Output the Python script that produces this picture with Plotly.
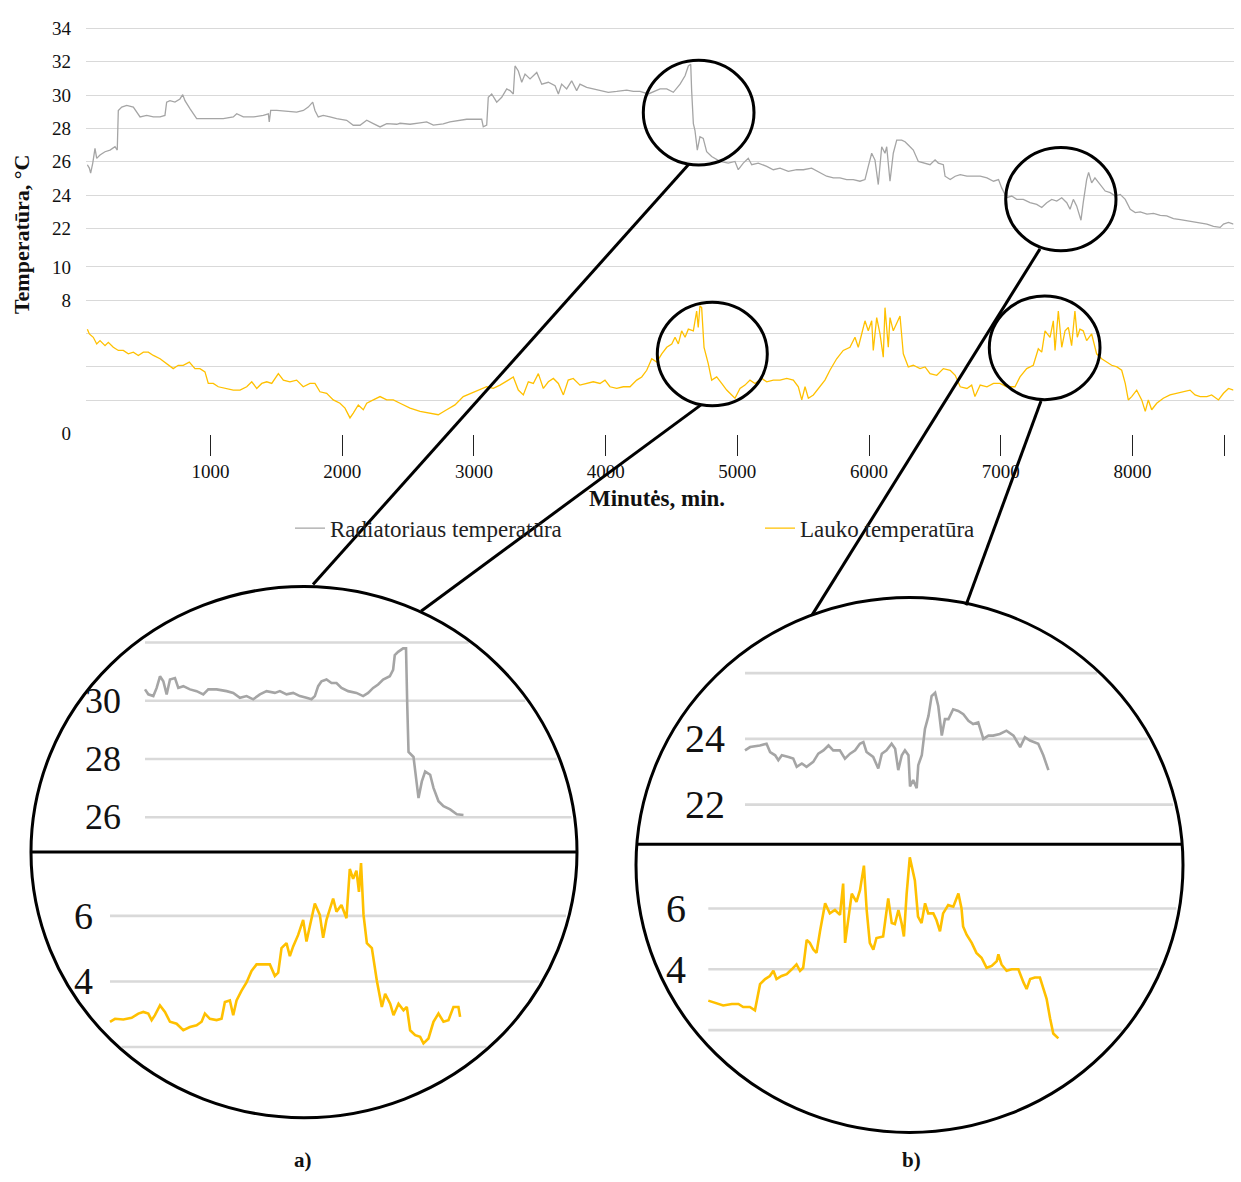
import math
import plotly.graph_objects as go

W, H = 1241, 1182
FONT = "Liberation Serif"
GREY = "#a5a5a5"
GOLD = "#ffc000"
GRID = "#d9d9d9"

# ---------------- data: (minutes, °C) ----------------
rad_readings = [
    (65, 25.82), (80, 25.62), (90, 25.32), (106, 25.92), (123, 26.8), (136, 26.2), (161, 26.4),
    (199, 26.6), (237, 26.7), (275, 26.9), (292, 26.7), (300, 29.08), (326, 29.28), (364, 29.38),
    (414, 29.28), (440, 28.98), (465, 28.69), (516, 28.78), (566, 28.69), (617, 28.69), (654, 28.78),
    (667, 29.58), (692, 29.67), (730, 29.58), (768, 29.77), (789, 30.03), (806, 29.67), (845, 29.18),
    (895, 28.59), (945, 28.59), (1021, 28.59), (1097, 28.59), (1173, 28.69), (1199, 28.88),
    (1249, 28.69), (1325, 28.69), (1401, 28.78), (1439, 28.88), (1446, 28.39), (1457, 29.08),
    (1503, 29.08), (1578, 29.05), (1654, 28.98), (1705, 29.08), (1742, 29.28), (1776, 29.58),
    (1793, 29.08), (1818, 28.69), (1856, 28.78), (1907, 28.69), (1958, 28.59), (2034, 28.49),
    (2084, 28.19), (2135, 28.19), (2186, 28.49), (2236, 28.29), (2287, 28.09), (2338, 28.29),
    (2414, 28.25), (2439, 28.31), (2515, 28.25), (2591, 28.33), (2641, 28.39), (2692, 28.2),
    (2767, 28.27), (2818, 28.39), (2869, 28.45), (2945, 28.55), (3021, 28.55), (3059, 28.55),
    (3071, 28.1), (3097, 28.2), (3109, 29.87), (3135, 30.07), (3173, 29.58), (3211, 29.87),
    (3249, 30.37), (3274, 30.27), (3299, 30.07), (3312, 31.75), (3337, 31.45), (3363, 30.77),
    (3388, 31.26), (3426, 30.97), (3477, 31.36), (3515, 30.66), (3565, 30.77), (3616, 30.56),
    (3641, 30.07), (3666, 30.66), (3704, 30.37), (3742, 30.86), (3780, 30.27), (3805, 30.66),
    (3856, 30.47), (3906, 30.37), (3957, 30.27), (4020, 30.17), (4084, 30.22), (4160, 30.3),
    (4210, 30.22), (4261, 30.22), (4324, 30.07), (4413, 30.37), (4464, 30.37), (4514, 30.17),
    (4565, 30.66), (4603, 31.16), (4628, 31.75), (4646, 31.85), (4653, 30.27), (4666, 28.29),
    (4678, 27.89), (4696, 26.7), (4716, 27.5), (4741, 27.4), (4767, 26.6), (4805, 26.31),
    (4868, 26.02), (4931, 25.92), (4982, 26.02), (5007, 25.52), (5045, 25.92), (5083, 26.21),
    (5109, 25.82), (5159, 25.92), (5223, 25.72), (5273, 25.52), (5324, 25.62), (5387, 25.42),
    (5451, 25.52), (5501, 25.52), (5564, 25.62), (5615, 25.42), (5628, 25.32), (5678, 25.13),
    (5729, 25.03), (5779, 25.03), (5830, 24.93), (5880, 24.93), (5931, 24.83), (5969, 24.93),
    (5994, 25.72), (6020, 26.51), (6045, 26.1), (6070, 24.63), (6096, 26.9), (6121, 26.51),
    (6134, 26.9), (6159, 24.83), (6184, 26.51), (6210, 27.3), (6248, 27.3), (6273, 27.2),
    (6298, 27.0), (6336, 26.7), (6374, 26.02), (6412, 25.92), (6463, 25.82), (6501, 26.11),
    (6526, 25.92), (6564, 25.82), (6577, 25.13), (6616, 24.93), (6654, 25.13), (6692, 25.22),
    (6743, 25.13), (6793, 25.13), (6844, 25.13), (6895, 25.03), (6945, 24.83), (6983, 24.93),
    (7007, 24.43), (7045, 23.84), (7083, 23.94), (7121, 23.74), (7171, 23.74), (7222, 23.54),
    (7273, 23.44), (7311, 23.25), (7349, 23.54), (7387, 23.74), (7425, 23.64), (7463, 23.84),
    (7501, 23.54), (7526, 23.15), (7551, 23.74), (7576, 23.35), (7609, 22.49), (7626, 23.54),
    (7652, 24.93), (7667, 25.36), (7690, 24.73), (7715, 25.03), (7755, 24.63), (7793, 24.24),
    (7831, 24.14), (7869, 23.94), (7907, 24.04), (7945, 23.74), (7983, 23.15), (8021, 22.95),
    (8059, 22.99), (8110, 22.85), (8160, 22.9), (8211, 22.78), (8260, 22.75), (8311, 22.59),
    (8363, 22.53), (8413, 22.46), (8463, 22.36), (8514, 22.32), (8565, 22.26), (8615, 22.12),
    (8666, 22.06), (8691, 22.26), (8729, 22.36), (8767, 22.26),
]

outdoor_readings = [
    (65, 6.26), (80, 5.97), (110, 5.77), (136, 5.37), (161, 5.57), (199, 5.27), (224, 5.47),
    (262, 5.17), (300, 4.98), (338, 4.98), (376, 4.78), (414, 4.88), (452, 4.68), (490, 4.88),
    (528, 4.88), (566, 4.68), (617, 4.48), (667, 4.19), (717, 3.89), (755, 4.09), (793, 4.09),
    (839, 4.28), (882, 3.89), (920, 3.89), (958, 3.69), (983, 3.0), (1021, 3.0), (1059, 2.8),
    (1123, 2.7), (1173, 2.6), (1224, 2.6), (1275, 2.8), (1313, 3.1), (1351, 2.7), (1389, 3.0),
    (1427, 3.1), (1465, 3.0), (1515, 3.59), (1553, 3.2), (1603, 3.1), (1654, 3.2), (1704, 2.8),
    (1755, 3.0), (1793, 3.0), (1831, 2.5), (1882, 2.41), (1932, 2.01), (1983, 1.81), (2021, 1.52),
    (2059, 0.93), (2084, 1.22), (2122, 1.71), (2160, 1.42), (2186, 1.81), (2236, 2.01), (2287, 2.21),
    (2338, 2.01), (2388, 2.01), (2439, 1.81), (2515, 1.52), (2591, 1.32), (2666, 1.22), (2729, 1.12),
    (2793, 1.42), (2856, 1.71), (2919, 2.21), (2983, 2.41), (3046, 2.6), (3097, 2.8), (3147, 2.7),
    (3198, 2.9), (3261, 3.2), (3299, 3.39), (3337, 2.6), (3375, 2.31), (3413, 3.1), (3451, 3.0),
    (3489, 3.59), (3527, 2.7), (3565, 3.1), (3603, 3.3), (3641, 3.0), (3679, 2.31), (3716, 3.2),
    (3754, 3.3), (3805, 2.9), (3856, 3.0), (3906, 3.1), (3957, 3.0), (3995, 3.2), (4033, 2.8),
    (4084, 2.7), (4134, 2.8), (4185, 2.8), (4236, 3.2), (4274, 3.39), (4312, 3.79), (4350, 4.48),
    (4388, 4.28), (4426, 4.78), (4464, 5.17), (4502, 5.37), (4527, 5.77), (4552, 5.37), (4577, 6.16),
    (4603, 5.77), (4628, 6.26), (4666, 6.16), (4691, 7.35), (4703, 6.36), (4716, 7.65), (4729, 7.55),
    (4747, 5.17), (4779, 4.19), (4805, 3.2), (4843, 3.39), (4881, 3.0), (4919, 2.6), (4957, 2.31),
    (4982, 2.11), (5020, 2.7), (5058, 2.9), (5096, 3.2), (5134, 3.0), (5185, 3.3), (5223, 3.1),
    (5273, 3.2), (5324, 3.2), (5375, 3.3), (5425, 3.2), (5463, 2.8), (5489, 2.01), (5514, 2.8),
    (5539, 2.11), (5577, 2.31), (5615, 2.7), (5653, 3.1), (5665, 3.2), (5703, 3.79), (5754, 4.48),
    (5804, 4.98), (5855, 5.17), (5893, 5.77), (5918, 5.17), (5944, 5.97), (5969, 6.76), (5994, 6.16),
    (6020, 6.76), (6032, 4.98), (6058, 6.95), (6083, 5.97), (6108, 4.58), (6121, 7.55), (6146, 5.17),
    (6159, 6.95), (6184, 6.16), (6235, 7.05), (6260, 4.78), (6298, 3.99), (6336, 4.09), (6387, 3.89),
    (6425, 3.99), (6463, 3.59), (6514, 3.49), (6564, 3.89), (6616, 3.79), (6654, 3.49), (6692, 2.8),
    (6743, 2.7), (6779, 2.9), (6804, 2.21), (6844, 2.9), (6895, 2.8), (6945, 3.0), (6994, 3.0),
    (7045, 2.8), (7108, 2.8), (7146, 3.39), (7197, 3.89), (7247, 4.09), (7285, 5.08), (7311, 4.88),
    (7336, 6.16), (7374, 5.77), (7399, 6.76), (7412, 4.98), (7437, 7.35), (7463, 5.17), (7488, 6.16),
    (7513, 6.36), (7538, 5.27), (7563, 7.35), (7581, 5.77), (7601, 6.26), (7626, 6.16), (7652, 5.57),
    (7690, 5.97), (7728, 4.78), (7766, 4.48), (7804, 4.28), (7842, 4.09), (7882, 3.99), (7918, 3.79),
    (7945, 3.0), (7968, 2.01), (7994, 2.21), (8032, 2.6), (8070, 2.01), (8097, 1.32), (8120, 2.01),
    (8146, 1.42), (8184, 1.81), (8234, 2.11), (8285, 2.31), (8336, 2.41), (8386, 2.5), (8437, 2.6),
    (8475, 2.31), (8514, 2.21), (8565, 2.21), (8601, 2.31), (8653, 2.01), (8691, 2.41), (8729, 2.7),
    (8767, 2.6),
]

# detailed readings for the two magnified windows
a_rad_readings = [
    (4000, 30.39), (4008, 30.22), (4020, 30.16), (4028, 30.44), (4036, 30.84), (4044, 30.67),
    (4052, 30.22), (4060, 30.73), (4072, 30.78), (4080, 30.44), (4092, 30.5), (4108, 30.39),
    (4124, 30.33), (4140, 30.22), (4152, 30.39), (4172, 30.39), (4196, 30.33), (4212, 30.27),
    (4228, 30.1), (4244, 30.16), (4260, 30.05), (4276, 30.22), (4292, 30.33), (4312, 30.27),
    (4324, 30.33), (4340, 30.22), (4356, 30.27), (4372, 30.16), (4388, 30.1), (4400, 30.05),
    (4408, 30.16), (4416, 30.5), (4424, 30.67), (4436, 30.73), (4448, 30.61), (4460, 30.61),
    (4472, 30.44), (4488, 30.33), (4508, 30.27), (4524, 30.16), (4536, 30.27), (4548, 30.44),
    (4560, 30.56), (4572, 30.73), (4588, 30.84), (4596, 31.06), (4600, 31.57), (4608, 31.68),
    (4620, 31.8), (4627, 31.8), (4630, 29.82), (4633, 28.24), (4645, 28.07), (4651, 27.34),
    (4657, 26.66), (4665, 27.23), (4673, 27.57), (4685, 27.46), (4693, 27.01), (4705, 26.55),
    (4717, 26.38), (4733, 26.27), (4749, 26.1), (4765, 26.08),
]
a_out_readings = [
    (4110, 2.77), (4122, 2.86), (4142, 2.84), (4162, 2.89), (4178, 3.02), (4190, 3.07), (4202, 3.02),
    (4210, 2.82), (4218, 2.97), (4230, 3.27), (4242, 3.07), (4254, 2.77), (4270, 2.71), (4286, 2.51),
    (4302, 2.61), (4318, 2.66), (4330, 2.77), (4338, 3.02), (4350, 2.86), (4366, 2.82), (4378, 2.86),
    (4386, 3.37), (4398, 3.42), (4406, 2.97), (4414, 3.42), (4426, 3.72), (4438, 3.97), (4450, 4.32),
    (4462, 4.52), (4474, 4.52), (4494, 4.52), (4506, 4.17), (4514, 4.27), (4522, 5.02), (4534, 5.17),
    (4542, 4.77), (4550, 5.07), (4562, 5.42), (4574, 5.88), (4582, 5.22), (4590, 5.68), (4602, 6.38),
    (4614, 6.03), (4622, 5.33), (4630, 5.88), (4638, 6.23), (4646, 6.53), (4654, 6.13), (4666, 6.33),
    (4678, 5.93), (4686, 7.43), (4694, 7.13), (4702, 7.38), (4708, 6.73), (4713, 7.61), (4719, 6.03),
    (4727, 5.17), (4739, 5.02), (4751, 4.02), (4763, 3.22), (4771, 3.62), (4783, 3.32), (4791, 2.97),
    (4803, 3.32), (4815, 3.12), (4823, 3.22), (4831, 2.51), (4843, 2.36), (4855, 2.31), (4863, 2.11),
    (4875, 2.26), (4887, 2.77), (4899, 3.02), (4911, 2.77), (4923, 2.82), (4935, 3.22), (4947, 3.22),
    (4951, 2.92),
]
b_rad_readings = [
    (7177, 23.65), (7190, 23.75), (7215, 23.8), (7232, 23.85), (7241, 23.6), (7254, 23.5),
    (7262, 23.35), (7271, 23.5), (7288, 23.45), (7300, 23.4), (7309, 23.15), (7322, 23.25),
    (7334, 23.15), (7351, 23.3), (7364, 23.55), (7377, 23.65), (7390, 23.8), (7402, 23.65),
    (7419, 23.65), (7432, 23.4), (7445, 23.55), (7458, 23.65), (7470, 23.85), (7479, 23.9),
    (7487, 23.6), (7504, 23.45), (7517, 23.1), (7526, 23.55), (7538, 23.65), (7551, 23.85),
    (7560, 23.7), (7568, 23.05), (7577, 23.5), (7585, 23.65), (7594, 23.5), (7598, 22.55),
    (7606, 22.75), (7615, 22.5), (7619, 23.2), (7628, 23.5), (7636, 24.3), (7645, 24.7),
    (7653, 25.3), (7662, 25.4), (7670, 25.0), (7679, 24.1), (7687, 24.6), (7696, 24.6),
    (7708, 24.9), (7721, 24.85), (7734, 24.75), (7747, 24.55), (7759, 24.45), (7772, 24.5),
    (7785, 24.0), (7798, 24.1), (7810, 24.1), (7827, 24.15), (7844, 24.25), (7862, 24.1),
    (7879, 23.75), (7891, 24.05), (7904, 23.95), (7917, 23.9), (7925, 23.85), (7938, 23.5),
    (7951, 23.05),
]
b_out_readings = [
    (7014, 2.97), (7027, 2.92), (7052, 2.81), (7074, 2.86), (7091, 2.86), (7103, 2.76), (7120, 2.76),
    (7133, 2.65), (7146, 3.51), (7159, 3.68), (7171, 3.78), (7180, 3.95), (7188, 3.68), (7201, 3.78),
    (7214, 3.84), (7227, 4.0), (7239, 4.16), (7248, 3.95), (7256, 4.05), (7265, 4.97), (7273, 4.87),
    (7282, 4.65), (7290, 4.54), (7299, 5.25), (7312, 6.17), (7324, 5.84), (7337, 5.95), (7350, 5.79),
    (7358, 6.82), (7363, 4.87), (7371, 5.62), (7380, 6.49), (7392, 6.22), (7401, 6.6), (7411, 7.41),
    (7418, 5.95), (7426, 4.87), (7435, 4.65), (7443, 5.03), (7460, 5.08), (7473, 6.33), (7482, 5.52),
    (7490, 5.49), (7499, 5.95), (7507, 5.52), (7513, 5.08), (7520, 6.49), (7528, 7.68), (7541, 6.92),
    (7549, 5.73), (7558, 5.52), (7567, 6.17), (7575, 5.84), (7588, 5.84), (7596, 5.62), (7605, 5.25),
    (7613, 5.84), (7626, 6.11), (7639, 6.06), (7652, 6.49), (7660, 6.0), (7664, 5.41), (7673, 5.14),
    (7686, 4.87), (7698, 4.54), (7711, 4.38), (7724, 4.05), (7737, 4.11), (7750, 4.27), (7754, 4.49),
    (7762, 4.16), (7775, 3.95), (7788, 4.0), (7805, 4.0), (7818, 3.57), (7826, 3.35), (7835, 3.68),
    (7847, 3.73), (7860, 3.73), (7869, 3.35), (7877, 3.03), (7886, 2.38), (7894, 1.89), (7907, 1.73),
]

x_tick_pos = [1000, 2000, 3000, 4000, 5000, 6000, 7000, 8000, 8696]
x_tick_text = ["1000", "2000", "3000", "4000", "5000", "6000", "7000", "8000", "8500"]
low_ticks = [0, 2, 4, 6, 8, 10]
low_labelled = [0, 8, 10]
high_ticks = [22, 24, 26, 28, 30, 32, 34]

series_names = ["Radiatoriaus temperatūra", "Lauko temperatūra"]


def unzip(pairs):
    return [p[0] for p in pairs], [p[1] for p in pairs]


# ---------------- broken y axis: 0..10 and 22..34 share one axis ----------------
BREAK_GAP = 2.312  # extra space between the 10 and 22 gridlines (axis units)


def upper(v):
    return v - 22 + 10 + BREAK_GAP


def px(x):
    return x / W


def py(y):
    return 1 - y / H


# main plot geometry (pixels)
MX0, MK = 78.8, 0.13171        # x_px = MX0 + minutes * MK
MY0, MKY = 433.9, 16.868        # y_px = MY0 - axis_value * MKY
M_LEFT, M_RIGHT, M_TOP, M_BOTTOM = 86, 1233.5, 18, 434.1

fig = go.Figure()

rt, rc = unzip(rad_readings)
ot, oc = unzip(outdoor_readings)
fig.add_trace(go.Scatter(x=rt, y=[upper(v) for v in rc], mode="lines", name=series_names[0],
                         line=dict(color=GREY, width=1.3)))
fig.add_trace(go.Scatter(x=ot, y=oc, mode="lines", name=series_names[1],
                         line=dict(color=GOLD, width=1.3)))

tickvals = low_ticks + [upper(v) for v in high_ticks]
ticktext = [str(v) if v in low_labelled else "" for v in low_ticks] + [str(v) for v in high_ticks]

fig.update_layout(
    xaxis=dict(domain=[px(M_LEFT), px(M_RIGHT)],
               range=[(M_LEFT - MX0) / MK, (M_RIGHT - MX0) / MK],
               tickvals=x_tick_pos, ticktext=x_tick_text, showgrid=False, zeroline=False,
               showline=False, ticks="outside", ticklen=21, tickwidth=1, tickcolor="#222",
               tickfont=dict(family=FONT, size=19, color="#111")),
    yaxis=dict(domain=[py(M_BOTTOM), py(M_TOP)],
               range=[(MY0 - M_BOTTOM) / MKY, (MY0 - M_TOP) / MKY],
               tickvals=tickvals, ticktext=ticktext, showgrid=True, gridcolor=GRID, gridwidth=1.3,
               zeroline=False, showline=False, ticks="", ticklabelstandoff=14,
               tickfont=dict(family=FONT, size=19, color="#111")),
)

# ---------------- magnified windows ----------------
# each: readings, colour, (t_ref, x_ref_px, kx), (v_ref, y_ref_px, ky), box (l, r, t, b) in px
insets = [
    (a_rad_readings, GREY, (4000, 145, 0.4163), (30, 704.7, 29.5), (140, 480, 630, 850)),
    (a_out_readings, GOLD, (4110, 110, 0.4163), (4, 989.0, 33.2), (100, 470, 860, 1070)),
    (b_rad_readings, GREY, (7177, 745, 0.392), (24, 743.3, 33.3), (740, 1060, 660, 845)),
    (b_out_readings, GOLD, (7014, 708.3, 0.392), (4, 976.7, 30.8), (700, 1070, 855, 1060)),
]
for i, (readings, colour, (t0, x0, kx), (v0, y0, ky), (l, r, t, b)) in enumerate(insets, start=2):
    xs, ys = unzip(readings)
    fig.add_trace(go.Scatter(x=xs, y=ys, mode="lines", xaxis=f"x{i}", yaxis=f"y{i}",
                             showlegend=False, line=dict(color=colour, width=2.6)))
    fig.layout[f"xaxis{i}"] = dict(domain=[px(l), px(r)], range=[t0 + (l - x0) / kx, t0 + (r - x0) / kx],
                                   visible=False, anchor=f"y{i}")
    fig.layout[f"yaxis{i}"] = dict(domain=[py(b), py(t)], range=[v0 - (b - y0) / ky, v0 - (t - y0) / ky],
                                   visible=False, anchor=f"x{i}")

# big magnifier circles (pixel boxes) and their dividing lines
big_a = (31, 577, 589, 1127)
big_b = (636, 1183, 600, 1142)
divider_a, divider_b = 858, 850


def chord(circle, y):
    x0, x1, y0, y1 = circle
    cx, cy = (x0 + x1) / 2, (y0 + y1) / 2
    rx, ry = (x1 - x0) / 2, (y1 - y0) / 2
    f = 1 - ((y - cy) / ry) ** 2
    if f <= 0:
        return cx, cx
    half = rx * math.sqrt(f)
    return cx - half, cx + half


def label(text, x, y, size, bold=False, angle=0):
    return dict(text=f"<b>{text}</b>" if bold else text, x=px(x), y=py(y), xref="paper",
                yref="paper", showarrow=False, xanchor="center", yanchor="middle",
                textangle=angle, font=dict(family=FONT, size=size, color="#111"))


shapes = []
annotations = []

# inset gridlines, clipped to the circle
inset_grids = [
    (big_a, [32, 30, 28, 26], [30, 28, 26], 145, 30, 704.7, 29.5, 103, 36),
    (big_a, [6, 4, 2], [6, 4], 110, 4, 989.0, 33.2, 83, 38),
    (big_b, [26, 24, 22], [24, 22], 745, 24, 743.3, 33.3, 705, 40),
    (big_b, [6, 4, 2], [6, 4], 708.3, 4, 976.7, 30.8, 676, 40),
]
for circle, levels, labelled, left, v0, y0, ky, lab_x, lab_size in inset_grids:
    for v in levels:
        y = y0 - (v - v0) * ky
        cl, cr = chord(circle, y)
        shapes.append(dict(type="line", xref="paper", yref="paper", layer="below",
                           x0=px(max(left, cl + 3)), x1=px(cr - 3), y0=py(y), y1=py(y),
                           line=dict(color=GRID, width=2.6)))
        if v in labelled:
            annotations.append(label(str(v), lab_x, y, lab_size))

for circle in (big_a, big_b):
    x0, x1, y0, y1 = circle
    shapes.append(dict(type="circle", xref="paper", yref="paper", x0=px(x0), x1=px(x1),
                       y0=py(y1), y1=py(y0), line=dict(color="black", width=3)))
for circle, y in ((big_a, divider_a), (big_b, divider_b)):
    cl, cr = chord(circle, y)
    shapes.append(dict(type="line", xref="paper", yref="paper", x0=px(cl), x1=px(cr),
                       y0=py(y), y1=py(y), line=dict(color="black", width=3)))

# small circles on the main plot marking the magnified windows
small_circles = [(643.3, 754, 56, 162), (657.3, 767.3, 301, 406),
                 (1005.7, 1116, 144.3, 249), (989.3, 1100, 294.7, 399.7)]
for x0, x1, y0, y1 in small_circles:
    shapes.append(dict(type="circle", xref="paper", yref="paper", x0=px(x0), x1=px(x1),
                       y0=py(y1), y1=py(y0), line=dict(color="black", width=3)))

connectors = [((689, 161), (313, 587)), ((701, 405), (421, 614)),
              ((1040, 247), (812, 618)), ((1041, 401), (966, 608))]
for (xa, ya), (xb, yb) in connectors:
    shapes.append(dict(type="line", xref="paper", yref="paper", x0=px(xa), y0=py(ya),
                       x1=px(xb), y1=py(yb), line=dict(color="black", width=3)))

annotations += [
    label("Temperatūra, °C", 21, 232, 22, bold=True, angle=-90),
    label("Minutės, min.", 657, 500, 23, bold=True),
    label("a)", 303, 1170, 21, bold=True),
    label("b)", 911, 1170, 21, bold=True),
]

fig.update_layout(
    width=W, height=H, margin=dict(l=0, r=0, t=0, b=0),
    paper_bgcolor="white", plot_bgcolor="rgba(0,0,0,0)",
    shapes=shapes, annotations=annotations,
    legend=dict(orientation="h", x=px(290), y=py(530), xanchor="left", yanchor="middle",
                entrywidth=425, entrywidthmode="pixels", bgcolor="rgba(0,0,0,0)",
                font=dict(family=FONT, size=23, color="#222")),
)

fig.write_html("out.html")
